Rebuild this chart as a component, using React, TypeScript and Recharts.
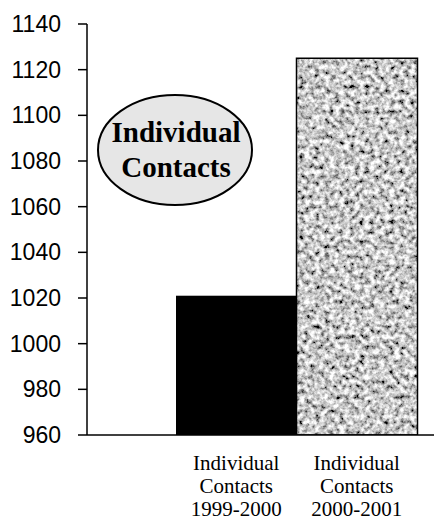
import { BarChart, Bar, XAxis, YAxis, Customized } from "recharts";

const categories = ["Individual Contacts 1999-2000", "Individual Contacts 2000-2001"];
const contacts = [1021, 1125];
const tickLines = [
  ["Individual", "Contacts", "1999-2000"],
  ["Individual", "Contacts", "2000-2001"],
];
const yTicks = [960, 980, 1000, 1020, 1040, 1060, 1080, 1100, 1120, 1140];
const badgeLines = ["Individual", "Contacts"];

const data = categories.map((name, i) => ({ name, value: contacts[i] }));

const serif = "'Liberation Serif', 'Times New Roman', serif";
const sans = "'Liberation Sans', Arial, sans-serif";

const XTick = ({ x, y, index }: any) => {
  const lines = tickLines[index] || [];
  return (
    <text x={x} y={y} textAnchor="middle" fontFamily={serif} fontSize={21} fill="#000">
      {lines.map((l, i) => (
        <tspan key={i} x={x} dy={i === 0 ? 35 : 23}>
          {l}
        </tspan>
      ))}
    </text>
  );
};

// tick label plus its little dash to the axis
const YTick = ({ x, y, payload }: any) => (
  <g>
    <line x1={x + 17} x2={x + 26} y1={y} y2={y} stroke="#000" strokeWidth={1.5} />
    <text x={x} y={y} dy={8} textAnchor="end" fontFamily={sans} fontSize={23} fill="#000">
      {payload.value}
    </text>
  </g>
);

const BarShape = (props: any) => {
  const { x, y, width, height, index } = props;
  if (index === 0) {
    return <rect x={x} y={y} width={width} height={height} fill="#000" />;
  }
  return (
    <g>
      <rect x={x} y={y} width={width} height={height} fill="#000" filter="url(#grain)" />
      <rect x={x} y={y} width={width} height={height} fill="none" stroke="#000" strokeWidth={1.5} />
    </g>
  );
};

const Badge = () => (
  <g>
    <ellipse cx={175} cy={150} rx={77} ry={55} fill="#e6e6e6" stroke="#000" strokeWidth={2} />
    <text x={176} y={142} textAnchor="middle" fontFamily={serif} fontWeight="bold" fontSize={29} fill="#000">
      {badgeLines[0]}
    </text>
    <text x={176} y={177} textAnchor="middle" fontFamily={serif} fontWeight="bold" fontSize={29} fill="#000">
      {badgeLines[1]}
    </text>
  </g>
);

export default function App() {
  return (
    <div style={{ position: "absolute", left: 0, top: 0, width: 446, height: 523, background: "#fff" }}>
      <svg width={0} height={0} style={{ position: "absolute" }}>
        <defs>
          <filter id="grain" filterUnits="userSpaceOnUse" x={0} y={0} width={446} height={523}>
            <feTurbulence type="fractalNoise" baseFrequency={0.2} numOctaves={3} seed={7} result="n" />
            <feColorMatrix
              in="n"
              type="matrix"
              values="2.0 0 0 0 -0.42  2.0 0 0 0 -0.42  2.0 0 0 0 -0.42  0 0 0 0 1"
              result="g"
            />
            <feComposite in="g" in2="SourceGraphic" operator="in" />
          </filter>
        </defs>
      </svg>
      <BarChart
        width={446}
        height={523}
        data={data}
        margin={{ top: 24, right: 12, bottom: 0, left: 0 }}
        barCategoryGap={0}
      >
        <XAxis
          dataKey="name"
          height={88}
          axisLine={{ stroke: "#000", strokeWidth: 1.5 }}
          tickLine={false}
          tickSize={0}
          tickMargin={0}
          tick={<XTick />}
          interval={0}
          padding={{ left: 89, right: 17 }}
        />
        <YAxis
          width={87}
          domain={[960, 1140]}
          ticks={yTicks}
          allowDataOverflow
          axisLine={{ stroke: "#000", strokeWidth: 1.5 }}
          tickLine={false}
          tickSize={9}
          tickMargin={17}
          tick={<YTick />}
        />
        <Bar dataKey="value" isAnimationActive={false} shape={<BarShape />} />
        <Customized component={Badge} />
      </BarChart>
    </div>
  );
}
